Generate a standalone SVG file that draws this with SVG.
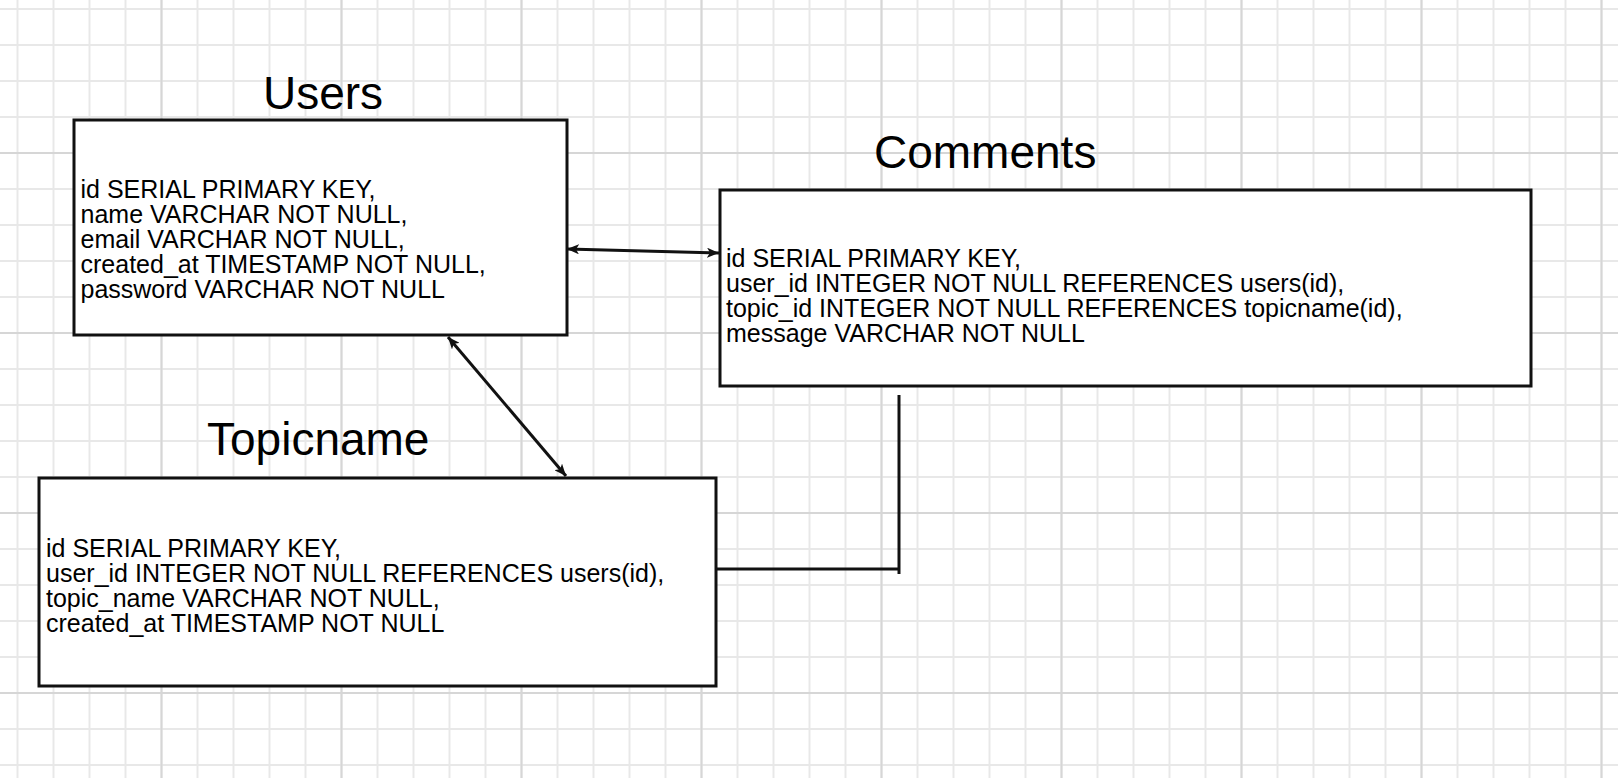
<svg xmlns="http://www.w3.org/2000/svg" width="1618" height="778" viewBox="0 0 1618 778">
  <style>
    .box { fill: #ffffff; stroke: #111111; stroke-width: 3; }
    .title { font-family: "Liberation Sans", Arial, sans-serif; font-size: 46px; fill: #000000; }
    .field { font-family: "Liberation Sans", Arial, sans-serif; font-size: 25px; fill: #000000; }
    .conn { fill: none; stroke: #111111; stroke-width: 3; }
  </style>
  <defs>
    <pattern id="gMinor" width="36" height="36" patternUnits="userSpaceOnUse" x="16.5" y="8">
      <path d="M1 0V36M0 1H36" stroke="#e8e8e8" stroke-width="2" fill="none"/>
    </pattern>
    <pattern id="gMajor" width="180" height="180" patternUnits="userSpaceOnUse" x="160.5" y="152">
      <path d="M1 0V180M0 1H180" stroke="#d6d6d6" stroke-width="2" fill="none"/>
    </pattern>
    <marker id="arrow" viewBox="0 0 12 10" refX="12" refY="5" markerWidth="12" markerHeight="10" markerUnits="userSpaceOnUse" orient="auto-start-reverse">
      <path d="M0 0L12 5L0 10L3 5Z" fill="#111111"/>
    </marker>
  </defs>

  <rect width="1618" height="778" fill="#ffffff"/>
  <rect width="1618" height="778" fill="url(#gMinor)"/>
  <rect width="1618" height="778" fill="url(#gMajor)"/>

  <g id="connectors">
    <line class="conn" x1="567" y1="249" x2="719" y2="253" marker-start="url(#arrow)" marker-end="url(#arrow)"/>
    <line class="conn" x1="448" y1="337" x2="566" y2="476" marker-start="url(#arrow)" marker-end="url(#arrow)"/>
    <path class="conn" d="M716 569H899"/>
    <path class="conn" d="M899 395V574"/>
  </g>

  <g id="users">
    <text class="title" x="263" y="109">Users</text>
    <rect class="box" x="74" y="120" width="493" height="215"/>
    <text class="field" x="80.5" y="198">id SERIAL PRIMARY KEY,</text>
    <text class="field" x="80.5" y="223">name VARCHAR NOT NULL,</text>
    <text class="field" x="80.5" y="248">email VARCHAR NOT NULL,</text>
    <text class="field" x="80.5" y="273">created_at TIMESTAMP NOT NULL,</text>
    <text class="field" x="80.5" y="298">password VARCHAR NOT NULL</text>
  </g>

  <g id="comments">
    <text class="title" x="874" y="168">Comments</text>
    <rect class="box" x="720" y="190" width="811" height="196"/>
    <text class="field" x="726" y="267">id SERIAL PRIMARY KEY,</text>
    <text class="field" x="726" y="292">user_id INTEGER NOT NULL REFERENCES users(id),</text>
    <text class="field" x="726" y="317">topic_id INTEGER NOT NULL REFERENCES topicname(id),</text>
    <text class="field" x="726" y="342">message VARCHAR NOT NULL</text>
  </g>

  <g id="topicname">
    <text class="title" x="207" y="455">Topicname</text>
    <rect class="box" x="39" y="478" width="677" height="208"/>
    <text class="field" x="46" y="557">id SERIAL PRIMARY KEY,</text>
    <text class="field" x="46" y="582">user_id INTEGER NOT NULL REFERENCES users(id),</text>
    <text class="field" x="46" y="607">topic_name VARCHAR NOT NULL,</text>
    <text class="field" x="46" y="632">created_at TIMESTAMP NOT NULL</text>
  </g>
</svg>
